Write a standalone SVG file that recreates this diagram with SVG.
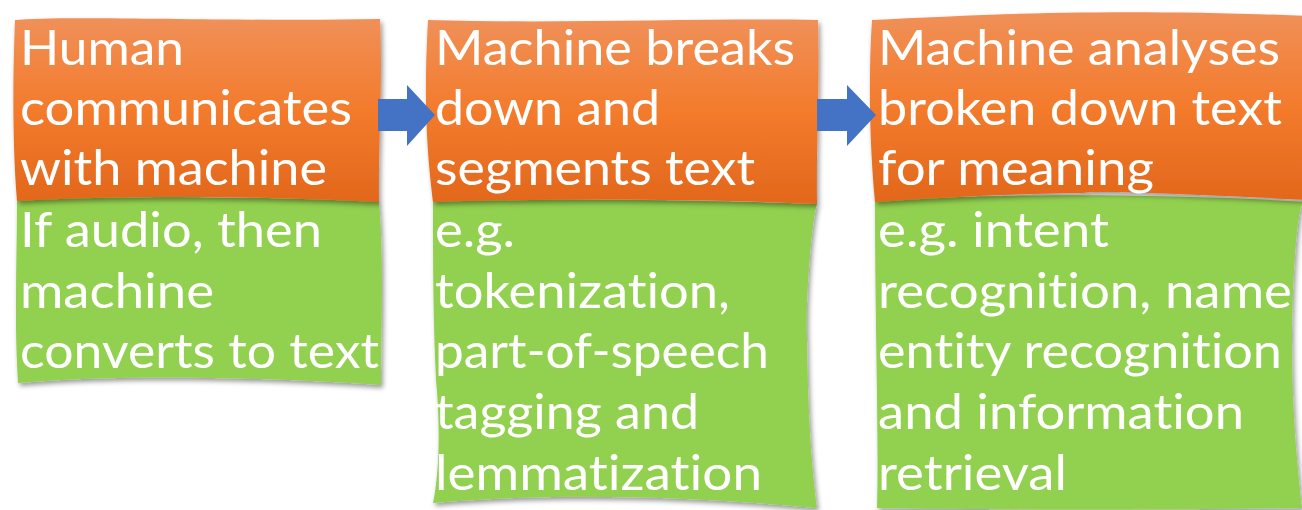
<svg xmlns="http://www.w3.org/2000/svg" width="1302" height="510" viewBox="0 0 1302 510">
<defs>
<linearGradient id="og" x1="0" y1="0" x2="0" y2="1">
<stop offset="0" stop-color="#F09058"/>
<stop offset="0.5" stop-color="#F37B2C"/>
<stop offset="1" stop-color="#E2671C"/>
</linearGradient>
<filter id="sh" x="-5%" y="-5%" width="115%" height="115%">
<feDropShadow dx="2" dy="3" stdDeviation="2.5" flood-color="#000" flood-opacity="0.4"/>
</filter>
</defs>
<style>
.org{fill:url(#og);filter:url(#sh)}
.grn{fill:#92D050;filter:url(#sh)}
.t{font-family:Lato,"Open Sans","Noto Sans",sans-serif;font-size:49px;fill:#FFFFFF;font-variant-ligatures:none;font-feature-settings:"liga" 0}
.arr{fill:#4472C4}
</style>
<rect width="1302" height="510" fill="#FFFFFF"/>
<g id="node1">
<path class="grn" d="M17,199 C120,196 260,197 379,201 C384,260 381,330 381,385 C260,377 120,374 18,383 C14,320 17,260 17,199 Z"/>
<path class="org" d="M15,20 C60,15 250,22 380,19 C383,80 378,150 379,202 C260,196 120,195 17,201 C12,140 13,70 15,20 Z"/>
<text class="t" x="20" y="65" textLength="164" lengthAdjust="spacingAndGlyphs">Human</text>
<text class="t" x="20" y="125" textLength="332" lengthAdjust="spacingAndGlyphs">communicates</text>
<text class="t" x="20" y="185" textLength="307" lengthAdjust="spacingAndGlyphs">with machine</text>
<text class="t" x="20" y="247" textLength="302" lengthAdjust="spacingAndGlyphs">If audio, then</text>
<text class="t" x="20" y="308" textLength="194" lengthAdjust="spacingAndGlyphs">machine</text>
<text class="t" x="20" y="368" textLength="359" lengthAdjust="spacingAndGlyphs">converts to text</text>
</g>
<g id="node2">
<path class="grn" d="M433,200 C560,198 700,200 817,204 C812,220 805,300 807,340 C808,420 812,470 817,508 C700,497 560,492 433,503 C440,470 440,420 436,380 C433,320 433,260 433,200 Z"/>
<path class="org" d="M428,20 C560,24 700,18 818,20 C820,80 816,150 817,204 C700,199 560,198 433,202 C428,160 423,110 428,20 Z"/>
<text class="t" x="435" y="65" textLength="360" lengthAdjust="spacingAndGlyphs">Machine breaks</text>
<text class="t" x="435" y="125" textLength="225" lengthAdjust="spacingAndGlyphs">down and</text>
<text class="t" x="435" y="185" textLength="320" lengthAdjust="spacingAndGlyphs">segments text</text>
<text class="t" x="435" y="247" textLength="80" lengthAdjust="spacingAndGlyphs">e.g.</text>
<text class="t" x="435" y="308" textLength="295" lengthAdjust="spacingAndGlyphs">tokenization,</text>
<text class="t" x="435" y="368" textLength="334" lengthAdjust="spacingAndGlyphs">part-of-speech</text>
<text class="t" x="435" y="429" textLength="264" lengthAdjust="spacingAndGlyphs">tagging and</text>
<text class="t" x="435" y="490" textLength="327" lengthAdjust="spacingAndGlyphs">lemmatization</text>
</g>
<g id="node3">
<path class="grn" d="M875,200 C1000,194 1150,193 1310,202 L1302,205 C1297,215 1292,280 1292,340 C1292,420 1298,470 1302,508 C1150,510 1000,510 877,508 C879,440 875,330 875,200 Z"/>
<path class="org" d="M872,20 C980,15 1100,8 1310,16 L1310,200 C1200,195 1100,190 1083,193 C1000,194 930,198 875,202 C870,150 868,80 872,20 Z"/>
<text class="t" x="878" y="65" textLength="402" lengthAdjust="spacingAndGlyphs">Machine analyses</text>
<text class="t" x="878" y="125" textLength="404" lengthAdjust="spacingAndGlyphs">broken down text</text>
<text class="t" x="878" y="185" textLength="276" lengthAdjust="spacingAndGlyphs">for meaning</text>
<text class="t" x="878" y="247" textLength="231" lengthAdjust="spacingAndGlyphs">e.g. intent</text>
<text class="t" x="878" y="308" textLength="414" lengthAdjust="spacingAndGlyphs">recognition, name</text>
<text class="t" x="878" y="368" textLength="404" lengthAdjust="spacingAndGlyphs">entity recognition</text>
<text class="t" x="878" y="429" textLength="366" lengthAdjust="spacingAndGlyphs">and information</text>
<text class="t" x="878" y="490" textLength="189" lengthAdjust="spacingAndGlyphs">retrieval</text>
</g>
<g id="connectors">
<path class="arr" d="M378,99 L407,99 L407,85 L435,115 L407,146 L407,131 L378,131 Z"/>
<path class="arr" d="M817,99 L847,99 L847,85 L876,115 L847,146 L847,131 L817,131 Z"/>
</g>
</svg>
